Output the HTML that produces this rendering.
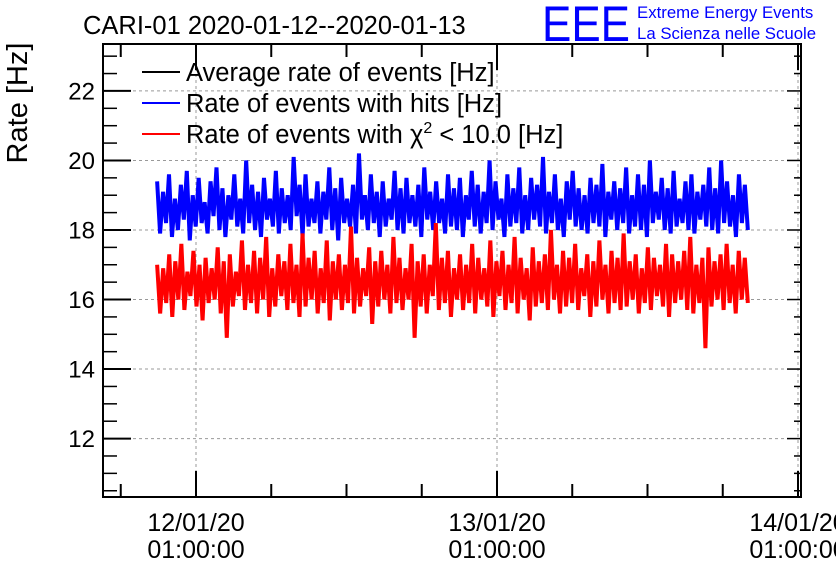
<!DOCTYPE html>
<html><head><meta charset="utf-8"><style>
body{margin:0;background:#fff;}
svg{display:block;font-family:"Liberation Sans",sans-serif;}
</style></head><body>
<svg id="chart" width="836" height="572" viewBox="0 0 836 572">
<rect x="0" y="0" width="836" height="572" fill="#fff"/>
<text x="83" y="34" font-size="25.5">CARI-01 2020-01-12--2020-01-13</text>
<text x="542" y="41" font-size="50" fill="#0000ff" textLength="88" lengthAdjust="spacingAndGlyphs">EEE</text>
<text x="637" y="18" font-size="16.8" fill="#0000ff">Extreme Energy Events</text>
<text x="637" y="39" font-size="16.8" fill="#0000ff">La Scienza nelle Scuole</text>
<text transform="translate(27,103) rotate(-90)" text-anchor="middle" font-size="29">Rate [Hz]</text>
<g id="grid"></g>
<g id="series"></g>
<g id="axes"></g>
<g font-size="25.5">
<line x1="142" y1="72" x2="180" y2="72" stroke="#000" stroke-width="2"/>
<text x="186" y="81">Average rate of events [Hz]</text>
<line x1="142" y1="103" x2="180" y2="103" stroke="#0000ff" stroke-width="2"/>
<text x="186" y="112">Rate of events with hits [Hz]</text>
<line x1="142" y1="134" x2="180" y2="134" stroke="#ff0000" stroke-width="2"/>
<text x="186" y="143">Rate of events with χ<tspan dy="-10" font-size="16">2</tspan><tspan dy="10"> &lt; 10.0 [Hz]</tspan></text>
</g>
</svg>
<script>
const yTicks=[12,14,16,18,20,22];
const xTickHours=[0,24,48];
const xTickDates=["12/01/20","13/01/20","14/01/20"];
const xTickTimes=["01:00:00","01:00:00","01:00:00"];
const startHour=-3.1, endHour=44.0;
const hits=[19.4,17.9,19.1,18.2,19.6,17.8,18.9,18.0,19.3,18.3,19.7,17.7,19.0,18.1,19.5,18.2,18.8,17.9,19.4,18.4,19.8,18.0,19.2,17.8,19.0,18.3,19.6,18.1,18.9,17.9,20.0,18.2,19.3,18.0,19.1,17.8,19.5,18.3,18.9,18.1,19.7,17.9,19.2,18.2,19.0,18.0,20.1,18.4,19.3,17.8,19.6,18.1,18.9,18.2,19.4,17.9,19.1,18.3,19.8,18.0,19.2,17.7,19.5,18.2,18.9,18.1,19.3,17.9,20.2,18.3,19.0,18.0,19.6,18.2,19.1,17.8,19.4,18.1,18.9,18.3,19.7,18.0,19.2,17.9,19.5,18.2,19.0,18.1,19.3,17.8,19.8,18.3,19.1,18.0,19.4,18.2,18.9,17.9,19.6,18.1,
19.2,18.0,19.5,17.8,19.0,18.3,19.7,18.1,19.3,17.9,19.1,18.2,20.0,18.0,19.4,18.3,18.9,17.8,19.6,18.1,19.2,18.2,19.8,17.9,19.0,18.0,19.5,18.3,19.3,18.1,20.1,17.9,19.1,18.2,19.6,18.0,18.9,17.8,19.4,18.3,19.7,18.1,19.2,18.0,19.0,17.9,19.5,18.2,19.3,18.1,19.9,17.8,19.1,18.3,19.4,18.0,19.2,18.2,19.8,17.9,19.0,18.1,19.6,18.0,19.3,17.8,20.0,18.2,19.1,18.3,19.5,18.0,19.2,17.9,19.7,18.1,18.9,18.2,19.4,18.0,19.6,17.9,19.1,18.3,19.3,18.1,19.8,18.0,19.2,17.9,20.0,18.2,19.4,18.1,19.0,17.8,19.6,18.2,19.3,18.0];
const chi2=[17.0,15.6,16.9,15.9,17.3,15.5,17.1,16.0,17.6,15.7,16.8,16.1,17.4,15.8,17.0,15.4,17.2,15.9,16.9,16.0,17.5,15.6,17.1,14.9,17.3,15.8,16.8,16.1,17.7,15.7,17.0,15.9,17.4,15.6,17.2,16.0,17.8,15.5,16.9,15.8,17.3,16.1,17.1,15.7,17.6,15.9,17.0,15.5,17.9,15.8,17.2,16.0,17.4,15.6,16.9,15.9,17.7,15.4,17.1,16.0,17.3,15.7,17.0,15.9,18.1,15.6,17.2,15.8,16.9,16.1,17.5,15.3,17.1,15.8,17.4,16.0,17.0,15.6,17.8,15.9,17.2,15.7,16.9,16.0,17.6,14.9,17.1,15.8,17.3,15.6,17.0,16.1,18.2,15.7,17.2,15.9,17.4,15.5,16.9,16.0,
17.3,15.7,17.0,15.9,17.6,15.6,17.2,16.0,16.9,15.8,17.7,15.5,17.1,16.1,17.4,15.7,17.0,15.9,17.8,15.6,17.2,16.0,16.9,15.4,17.5,15.8,17.1,15.9,17.3,15.7,18.0,16.0,17.0,15.6,17.4,15.8,17.2,15.9,17.6,15.7,16.9,16.1,17.3,15.5,17.1,15.8,17.7,16.0,17.0,15.6,17.4,15.9,17.2,15.7,17.9,15.8,17.1,16.0,17.3,15.6,16.9,15.9,17.5,15.7,17.2,16.1,17.0,15.8,17.6,15.5,17.3,15.9,17.1,16.0,17.4,15.7,17.8,15.6,17.0,15.9,17.2,14.6,17.5,15.8,17.1,16.0,17.3,15.7,17.6,15.9,17.0,15.6,17.4,16.0,17.2,15.9];

const L=103,R=801,T=44,B=497;
const yMin=10.32,yMax=23.35;
function ys(v){return B-(v-yMin)/(yMax-yMin)*(B-T);}
function xs(h){return 196+h*(301/24);}
const NS="http://www.w3.org/2000/svg";
function mk(tag,attrs,parent){const e=document.createElementNS(NS,tag);for(const k in attrs)e.setAttribute(k,attrs[k]);parent.appendChild(e);return e;}
const grid=document.getElementById('grid'),axes=document.getElementById('axes'),series=document.getElementById('series');
yTicks.forEach(v=>{
  const g=mk('line',{x1:L,x2:R,y1:ys(v),y2:ys(v),stroke:'#999','stroke-dasharray':'3,3','stroke-width':1},grid);
  
  
  const t=mk('text',{x:95,y:ys(v)+8.5,'text-anchor':'end','font-size':24},axes);
  t.textContent=v;
  
  
});
for(let v=10.5;v<yMax;v+=0.5){
  const major=Math.abs(v-Math.round(v/2)*2)<1e-6;
  const len=major?28:14;
  mk('line',{x1:L,x2:L+len,y1:ys(v),y2:ys(v),stroke:'#000','stroke-width':major?2:1.5},axes);
  mk('line',{x1:R,x2:R-len*0.5,y1:ys(v),y2:ys(v),stroke:'#000','stroke-width':1.5},axes);
}
xTickHours.forEach((h,i)=>{
  const g=mk('line',{x1:xs(h),x2:xs(h),y1:T,y2:B,stroke:'#999','stroke-dasharray':'3,3','stroke-width':1},grid);
  
  
  const t1=mk('text',{x:xs(h),y:531,'text-anchor':'middle','font-size':25},axes);
  t1.textContent=xTickDates[i];
  
  
  const t2=mk('text',{x:xs(h),y:558,'text-anchor':'middle','font-size':25},axes);
  t2.textContent=xTickTimes[i];
  
  
});
for(let h=-12;h<=48;h+=6){
  const x=xs(h); if(x<L||x>R+1)continue;
  const major=h%24===0;
  mk('line',{x1:x,x2:x,y1:B,y2:B-(major?26:13),stroke:'#000','stroke-width':2},axes);
  mk('line',{x1:x,x2:x,y1:T,y2:T+(major?26:13),stroke:'#000','stroke-width':2},axes);
}
const fr=mk('rect',{x:L,y:T,width:R-L,height:B-T,fill:'none',stroke:'#000','stroke-width':2},axes);


function drawSeries(vals,color,name){
  const step=(endHour-startHour)/(vals.length-1);
  const d=vals.map((v,i)=>(i?'L':'M')+xs(startHour+i*step).toFixed(2)+','+ys(v).toFixed(2)).join('');
  const p=mk('path',{d:d,fill:'none',stroke:color,'stroke-width':4,'stroke-linejoin':'miter','stroke-miterlimit':2},series);
  
  
}
drawSeries(hits,'#0000ff','hits-rate-line');
drawSeries(chi2,'#ff0000','chi2-rate-line');
</script>
</body></html>
